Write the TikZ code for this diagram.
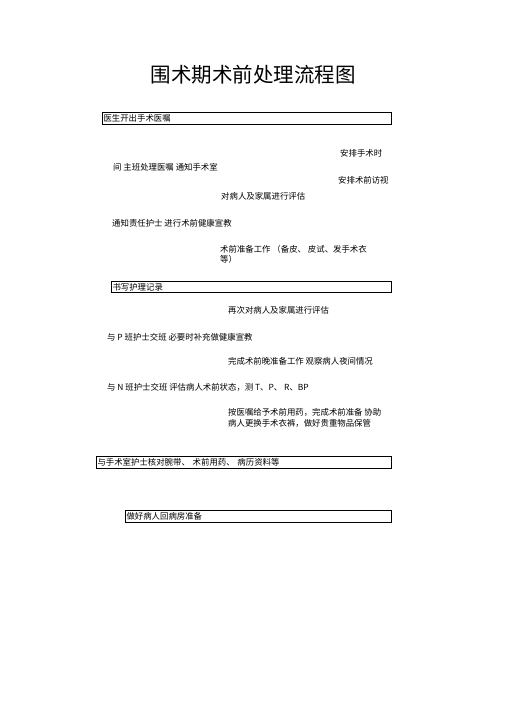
\documentclass[tikz,border=0pt]{standalone}
\usepackage{fontspec}
\setmainfont{Noto Sans CJK SC}
\tikzset{
  txt/.style={anchor=west, inner sep=0pt, font=\fontsize{8.4bp}{10bp}\selectfont},
  box/.style={draw, line width=1bp, anchor=west, inner xsep=1bp, inner ysep=0pt,
    minimum height=11.5bp, align=left, font=\fontsize{8.4bp}{10bp}\selectfont},
}
\begin{document}
\begin{tikzpicture}[x=1bp,y=-1bp]
\useasboundingbox (0,0) rectangle (505,714);
\node[inner sep=0pt, font=\fontsize{20.5bp}{22bp}\selectfont] (title) at (253,75) {围术期术前处理流程图};
\node[box, text width=287bp] (b1) at (102,118.5) {医生开出手术医嘱};
\node[txt] (t1) at (340,153) {安排手术时};
\node[txt] (t2) at (113,167) {间 主班处理医嘱 通知手术室};
\node[txt] (t3) at (338,180) {安排术前访视};
\node[txt] (t4) at (221,196) {对病人及家属进行评估};
\node[txt] (t5) at (112,223) {通知责任护士 进行术前健康宣教};
\node[txt] (t6) at (220,249) {术前准备工作 （备皮、 皮试、发手术衣};
\node[txt] (t7) at (220,259.5) {等）};
\node[box, text width=278bp] (b2) at (111,287) {书写护理记录};
\node[txt] (t8) at (228,310) {再次对病人及家属进行评估};
\node[txt] (t9) at (107,337) {与 P 班护士交班 必要时补充做健康宣教};
\node[txt] (t10) at (228,361) {完成术前晚准备工作 观察病人夜间情况};
\node[txt] (t11) at (107,387) {与 N 班护士交班 评估病人术前状态，测 T、P、 R、BP};
\node[txt] (t12) at (228,412) {按医嘱给予术前用药，完成术前准备 协助};
\node[txt] (t13) at (228,423.5) {病人更换手术衣裤，做好贵重物品保管};
\node[box, text width=293bp] (b3) at (96,462.5) {与手术室护士核对腕带、 术前用药、 病历资料等};
\node[box, text width=264bp] (b4) at (125,516.5) {做好病人回病房准备};
\end{tikzpicture}
\end{document}
